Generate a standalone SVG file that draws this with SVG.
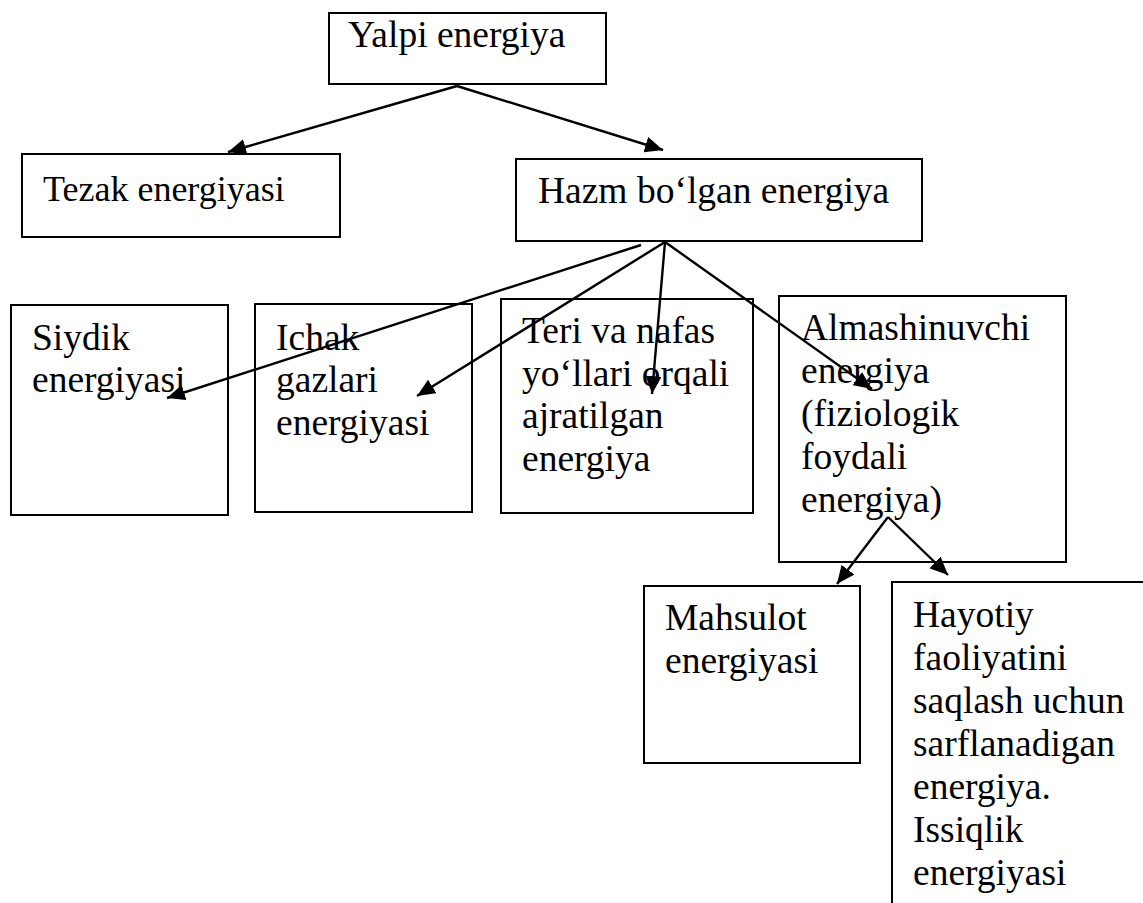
<svg xmlns="http://www.w3.org/2000/svg" width="1143" height="903" viewBox="0 0 1143 903">
<style>
.box{fill:#fff;stroke:#000;stroke-width:2}
.t{font-family:"Liberation Serif","Times New Roman",serif;font-size:37.5px;fill:#000}
.c{stroke:#000;stroke-width:2.4;fill:none;marker-end:url(#ah)}
</style>
<defs>
<marker id="ah" markerUnits="userSpaceOnUse" markerWidth="20" markerHeight="16" refX="18" refY="8" orient="auto">
<path d="M0,0 L18,8 L0,16 z" fill="#000"/>
</marker>
</defs>
<rect width="1143" height="903" fill="#fff"/>
<g id="n-yalpi"><rect class="box" x="329" y="13" width="277" height="71"/><text class="t" x="348" y="47">Yalpi energiya</text></g>
<g id="n-tezak"><rect class="box" x="22" y="154" width="318" height="83"/><text class="t" x="43" y="201" style="font-size:36px">Tezak energiyasi</text></g>
<g id="n-hazm"><rect class="box" x="516" y="159" width="406" height="82"/><text class="t" x="538" y="203">Hazm bo‘lgan energiya</text></g>
<g id="n-siydik"><rect class="box" x="11" y="305" width="217" height="210"/><text class="t" x="32" y="350">Siydik</text><text class="t" x="32" y="392">energiyasi</text></g>
<g id="n-ichak"><rect class="box" x="255" y="304" width="217" height="208"/><text class="t" x="276" y="350">Ichak</text><text class="t" x="276" y="392">gazlari</text><text class="t" x="276" y="435">energiyasi</text></g>
<g id="n-teri"><rect class="box" x="501" y="299" width="252" height="214"/><text class="t" x="522" y="343">Teri va nafas</text><text class="t" x="522" y="386">yo‘llari orqali</text><text class="t" x="522" y="428">ajratilgan</text><text class="t" x="522" y="471">energiya</text></g>
<g id="n-almash"><rect class="box" x="779" y="296" width="287" height="266"/><text class="t" x="801" y="340">Almashinuvchi</text><text class="t" x="801" y="383">energiya</text><text class="t" x="801" y="426">(fiziologik</text><text class="t" x="801" y="469">foydali</text><text class="t" x="801" y="512">energiya)</text></g>
<g id="n-mahsulot"><rect class="box" x="644" y="586" width="216" height="177"/><text class="t" x="665" y="630">Mahsulot</text><text class="t" x="665" y="673">energiyasi</text></g>
<g id="n-hayotiy"><rect class="box" x="892" y="582" width="260" height="340"/><text class="t" x="913" y="627">Hayotiy</text><text class="t" x="913" y="670">faoliyatini</text><text class="t" x="913" y="713">saqlash uchun</text><text class="t" x="913" y="756">sarflanadigan</text><text class="t" x="913" y="799">energiya.</text><text class="t" x="913" y="842">Issiqlik</text><text class="t" x="913" y="885">energiyasi</text></g>
<g id="connectors">
<line class="c" x1="457" y1="86" x2="228" y2="152"/>
<line class="c" x1="457" y1="86" x2="663" y2="150"/>
<line class="c" x1="641" y1="245" x2="167" y2="398"/>
<line class="c" x1="665" y1="242" x2="417" y2="396"/>
<line class="c" x1="665" y1="242" x2="652" y2="394"/>
<line class="c" x1="665" y1="242" x2="872" y2="389"/>
<line class="c" x1="888" y1="517" x2="837" y2="584"/>
<line class="c" x1="888" y1="517" x2="948" y2="575"/>
</g>
</svg>
